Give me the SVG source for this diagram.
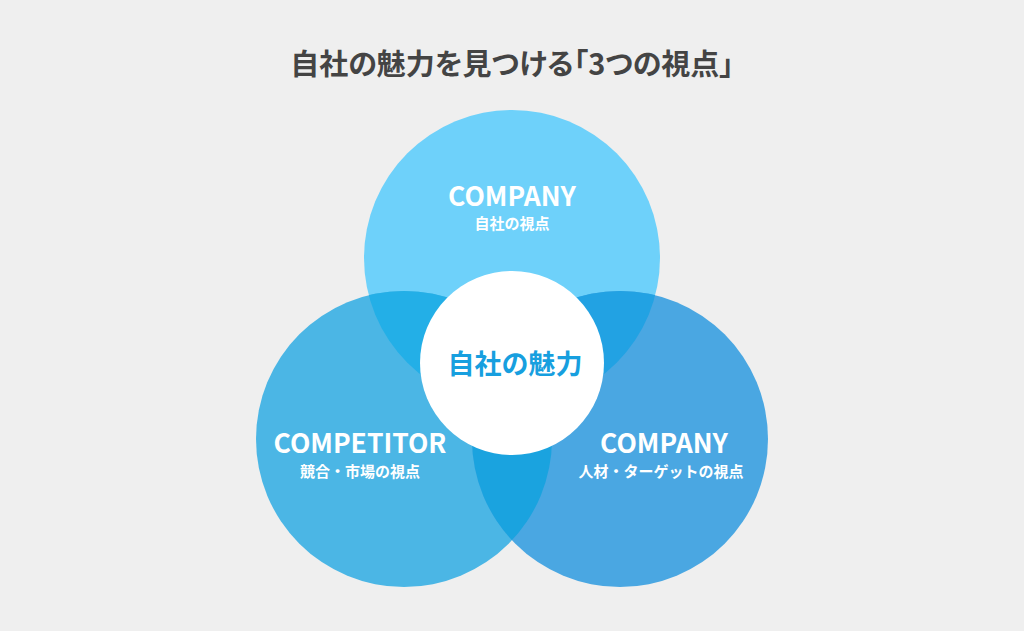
<svg xmlns="http://www.w3.org/2000/svg" width="1024" height="631" viewBox="0 0 1024 631">
<style>
text{font-family:"Noto Sans CJK JP","Noto Sans",sans-serif;font-weight:bold;text-anchor:middle}
.t{fill:#444;font-size:29px;font-feature-settings:"palt"}
.h{fill:#fff;font-size:26.5px}
.s{fill:#fff;font-size:15px}
.c{fill:#179fdf;font-size:27px}
</style>
<defs>
<clipPath id="cT"><circle cx="512" cy="258" r="148"/></clipPath>
<clipPath id="cL"><circle cx="404" cy="439" r="148"/></clipPath>
<clipPath id="cR"><circle cx="620" cy="439" r="148"/></clipPath>
</defs>
<rect width="1024" height="631" fill="#efefef"/>
<text class="t" x="512" y="75">自社の魅力を見つける「3つの視点」</text>
<g id="top"><circle cx="512" cy="258" r="148" fill="#6ed1fa"/></g>
<g id="left"><circle cx="404" cy="439" r="148" fill="#4bb6e5"/></g>
<g id="right"><circle cx="620" cy="439" r="148" fill="#4aa7e2"/></g>
<g id="overlaps">
<g clip-path="url(#cT)"><circle cx="404" cy="439" r="148" fill="#23afe7"/></g>
<g clip-path="url(#cT)"><circle cx="620" cy="439" r="148" fill="#22a2e3"/></g>
<g clip-path="url(#cL)"><circle cx="620" cy="439" r="148" fill="#1aa3df"/></g>
</g>
<g id="center"><circle cx="512" cy="363" r="92" fill="#fff"/>
<text class="c" x="515" y="374">自社の魅力</text></g>
<g id="labels">
<text class="h" x="512" y="206">COMPANY</text>
<text class="s" x="512" y="229">自社の視点</text>
<text class="h" x="360" y="453">COMPETITOR</text>
<text class="s" x="360" y="477">競合・市場の視点</text>
<text class="h" x="664" y="453">COMPANY</text>
<text class="s" x="661" y="477">人材・ターゲットの視点</text>
</g>
</svg>
